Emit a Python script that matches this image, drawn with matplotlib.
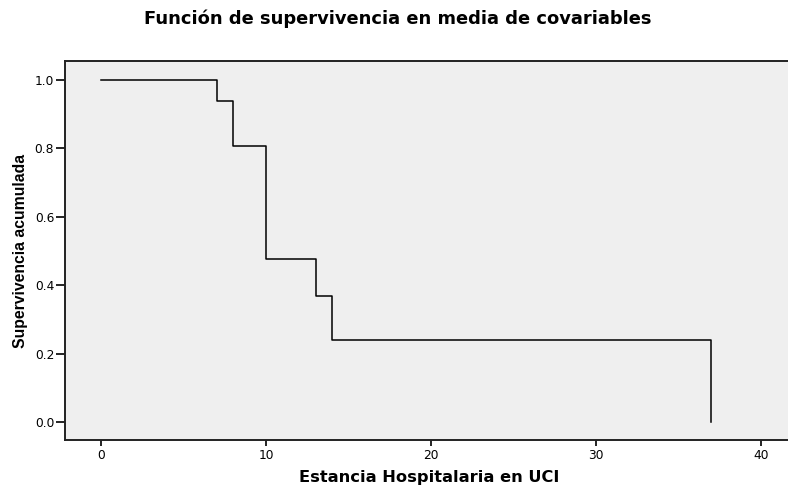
import numpy as np
import matplotlib.pyplot as plt

plt.rcParams['font.family'] = ['DejaVu Sans']

# Tiempos de evento y supervivencia acumulada
tiempos = [0, 7, 8, 10, 13, 14, 37]
supervivencia = [1.0, 0.938, 0.806, 0.478, 0.368, 0.240, 0.0]

x_ticks = [0, 10, 20, 30, 40]
y_ticks = [0.0, 0.2, 0.4, 0.6, 0.8, 1.0]

fig = plt.figure(figsize=(7.88, 4.88), dpi=100)
ax = fig.add_axes([65 / 788, 48 / 488, 1 - 65 / 788 + 0.004, 379 / 488])
ax.set_facecolor('#efefef')

ax.step(tiempos, supervivencia, where='post', color='black', linewidth=1.1)

ax.set_xlim(-2.2, 41.85)
ax.set_ylim(-0.052, 1.055)
ax.set_xticks(x_ticks)
ax.set_yticks(y_ticks)
ax.set_yticklabels([f'{v:.1f}' for v in y_ticks])
ax.tick_params(axis='both', direction='out', width=1.2, labelsize=8.8)
ax.tick_params(axis='x', length=4.5, pad=2)
ax.tick_params(axis='y', length=6.8, pad=1)

for s in ['left', 'bottom', 'top']:
    ax.spines[s].set_linewidth(1.4)
    ax.spines[s].set_color('#222222')
ax.spines['right'].set_visible(False)

# titulos y etiquetas
fig.text(398 / 788, 1 - 24 / 488, 'Función de supervivencia en media de covariables',
         ha='center', va='baseline', fontsize=12.9, fontweight='bold')
fig.text(429 / 788, 1 - 482 / 488, 'Estancia Hospitalaria en UCI',
         ha='center', va='baseline', fontsize=11.7, fontweight='bold')
fig.text(21 / 788, 1 - 251 / 488, 'Supervivencia acumulada', rotation=90,
         ha='center', va='center', fontsize=11.3, fontweight='bold',
         family='Liberation Sans')

fig.savefig('out.png', dpi=100)
